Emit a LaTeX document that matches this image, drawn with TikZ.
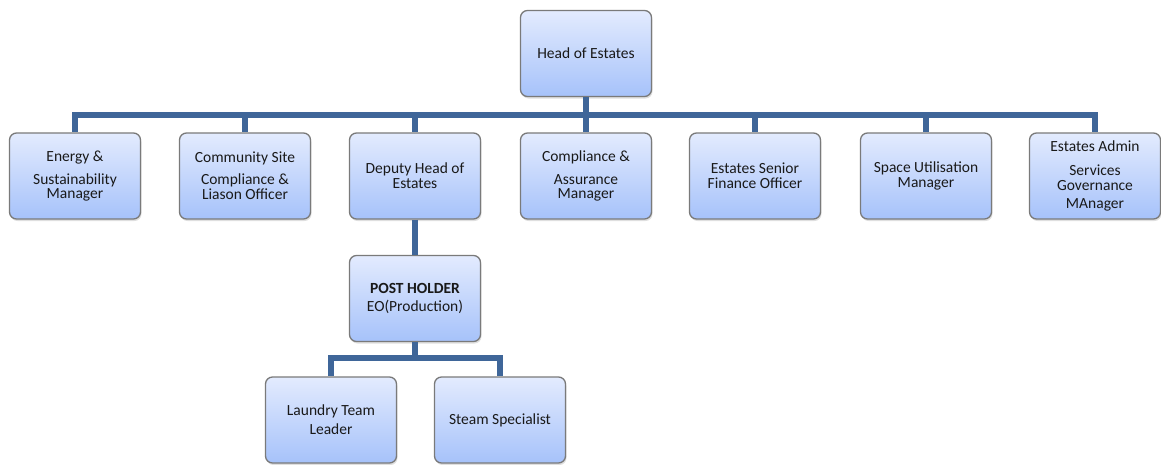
\documentclass[tikz,border=0pt]{standalone}
\usepackage{fontspec}
\setmainfont{Carlito}
\usetikzlibrary{shadows}
\definecolor{conncol}{HTML}{3F6699}
\definecolor{boxtop}{HTML}{E3EBFE}
\definecolor{boxbot}{HTML}{A6C2FA}
\definecolor{boxline}{HTML}{7A7A7A}
\tikzset{
  orgbox/.style={draw=boxline, line width=1.3pt, rounded corners=7pt,
    top color=boxtop, bottom color=boxbot, shading angle=0,
    minimum width=131pt, minimum height=86pt, align=center,
    inner sep=2pt, text=black!90,
    font=\fontsize{15.5}{15}\selectfont,
    drop shadow={opacity=0.25, shadow xshift=1pt, shadow yshift=-2pt}},
  conn/.style={draw=conncol, line width=6pt}
}
\begin{document}
\begin{tikzpicture}[x=1pt,y=-1pt]
\useasboundingbox (0,0) rectangle (1161,464);
\node[orgbox] (head) at (586,53.5) {Head of Estates};
\node[orgbox] (energy) at (75,176) {Energy \&\\[8pt]Sustainability\\[-1pt]Manager};
\node[orgbox] (community) at (245,176) {Community Site\\[7pt]Compliance \&\\Liason Officer};
\node[orgbox] (deputy) at (415,176) {Deputy Head of\\Estates};
\node[orgbox] (compliance) at (586,176) {Compliance \&\\[8pt]Assurance\\[-1pt]Manager};
\node[orgbox] (finance) at (755,176) {Estates Senior\\Finance Officer};
\node[orgbox] (space) at (926,176) {Space Utilisation\\Manager};
\node[orgbox] (admin) at (1095,176) {Estates Admin\\[9pt]Services\\Governance\\[3pt]MAnager};
\node[orgbox] (post) at (415,298.5) {\textbf{POST HOLDER}\\[3pt]EO(Production)};
\node[orgbox] (laundry) at (331,420) {Laundry Team\\[4pt]Leader};
\node[orgbox] (steam) at (500,420) {Steam Specialist};
\coordinate (bus) at (586,115);
\coordinate (bus2) at (415,358);
\draw[conn] (head.south) -- (bus);
\foreach \c in {energy,community,deputy,compliance,finance,space,admin}
  \draw[conn] (bus) -| (\c.north);
\draw[conn] (deputy.south) -- (post.north);
\draw[conn] (post.south) -- (bus2);
\foreach \c in {laundry,steam}
  \draw[conn] (bus2) -| (\c.north);
\end{tikzpicture}
\end{document}
